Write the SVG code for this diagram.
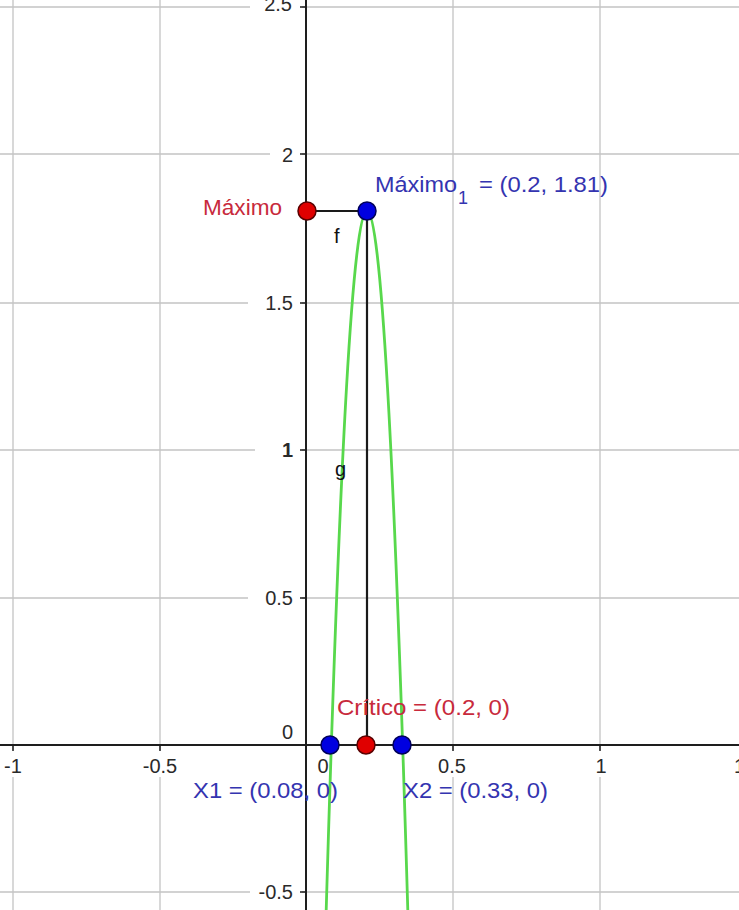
<svg xmlns="http://www.w3.org/2000/svg" width="739" height="910" viewBox="0 0 739 910">
<style>
.grid{stroke:#c4c4c4;stroke-width:1.3;fill:none}
.axis{stroke:#1e1e1e;stroke-width:2;fill:none}
.tick{stroke:#1e1e1e;stroke-width:1.5}
.num{font-family:"Liberation Sans",Arial,sans-serif;font-size:20px;fill:#2a2a2a}
.bg{fill:#ffffff}
.lbl{font-family:"Liberation Sans",Arial,sans-serif;font-size:22px}
.red{fill:#c82a3c}
.blue{fill:#3434b0}
.blk{font-family:"Liberation Sans",Arial,sans-serif;font-size:20px;fill:#111}
.ptR{fill:#e00000;stroke:#5a0000;stroke-width:1.5}
.ptB{fill:#0000e0;stroke:#00005a;stroke-width:1.5}
.seg{stroke:#1a1a1a;stroke-width:2.2;fill:none}
.curve{stroke:#58d84c;stroke-width:2.8;fill:none}
</style>
<rect width="739" height="910" fill="#ffffff"/>
<g id="grid">
<path class="grid" d="M0 7H739M0 154H739M0 303H739M0 450H739M0 598H739M0 892H739M13 0V910M160 0V910M453 0V910M600 0V910"/>
</g>
<g id="axis-label-bg">
<rect class="bg" x="250" y="0" width="52" height="18"/>
<rect class="bg" x="270" y="144" width="32" height="22"/>
<rect class="bg" x="248" y="292" width="54" height="22"/>
<rect class="bg" x="255" y="440" width="47" height="22"/>
<rect class="bg" x="248" y="587" width="54" height="22"/>
<rect class="bg" x="250" y="882" width="52" height="22"/>
<rect class="bg" x="0" y="750" width="28" height="27"/>
<rect class="bg" x="139" y="750" width="42" height="27"/>
<rect class="bg" x="436" y="750" width="34" height="27"/>
<rect class="bg" x="590" y="750" width="20" height="27"/>
<rect class="bg" x="730" y="750" width="9" height="27"/>
</g>
<g id="axes">
<path class="axis" d="M306 0V910M0 745H739"/>
<path class="tick" d="M300 7H306M300 154H306M300 303H306M300 450H306M300 598H306M300 892H306M13 745V751M160 745V751M453 745V751M600 745V751"/>
</g>
<g id="axis-labels">
<text class="num" x="292" y="11" text-anchor="end">2.5</text>
<text class="num" x="293" y="162" text-anchor="end">2</text>
<text class="num" x="293" y="310" text-anchor="end">1.5</text>
<text class="num" x="293" y="457" text-anchor="end" font-weight="bold">1</text>
<text class="num" x="293" y="605" text-anchor="end">0.5</text>
<text class="num" x="293" y="739" text-anchor="end">0</text>
<text class="num" x="293" y="899" text-anchor="end">-0.5</text>
<text class="num" x="13" y="773" text-anchor="middle">-1</text>
<text class="num" x="160" y="773" text-anchor="middle">-0.5</text>
<text class="num" x="323" y="773" text-anchor="middle">0</text>
<text class="num" x="452" y="773" text-anchor="middle">0.5</text>
<text class="num" x="601" y="773" text-anchor="middle">1</text>
<text class="num" x="748" y="773" text-anchor="middle">1.5</text>
</g>
<g id="g">
<path class="curve" d="M326 917Q367 -495 408 917"/>
<text class="blk" x="335" y="476">g</text>
</g>
<g id="connectors">
<path id="f" class="seg" d="M307 211H367"/>
<path id="vertical" class="seg" d="M367 211V745"/>
<text class="blk" x="334" y="243">f</text>
</g>
<g id="Maximo">
<circle class="ptR" cx="307" cy="211" r="9"/>
<text class="lbl red" x="203" y="215" textLength="79" lengthAdjust="spacingAndGlyphs">Máximo</text>
</g>
<g id="Maximo1">
<circle class="ptB" cx="367" cy="211" r="9"/>
<text class="lbl blue" x="375" y="192" textLength="82" lengthAdjust="spacingAndGlyphs">Máximo</text>
<text class="lbl blue" x="458" y="204" style="font-size:18px">1</text>
<text class="lbl blue" x="479" y="192" textLength="129" lengthAdjust="spacingAndGlyphs">= (0.2, 1.81)</text>
</g>
<g id="Critico">
<circle class="ptR" cx="366" cy="745" r="9"/>
<text class="lbl red" x="337" y="715" textLength="173" lengthAdjust="spacingAndGlyphs">Crítico = (0.2, 0)</text>
</g>
<g id="X1">
<circle class="ptB" cx="330" cy="745" r="9"/>
<text class="lbl blue" x="193" y="798" textLength="145" lengthAdjust="spacingAndGlyphs">X1 = (0.08, 0)</text>
</g>
<g id="X2">
<circle class="ptB" cx="402" cy="745" r="9"/>
<text class="lbl blue" x="403" y="798" textLength="145" lengthAdjust="spacingAndGlyphs">X2 = (0.33, 0)</text>
</g>
</svg>
